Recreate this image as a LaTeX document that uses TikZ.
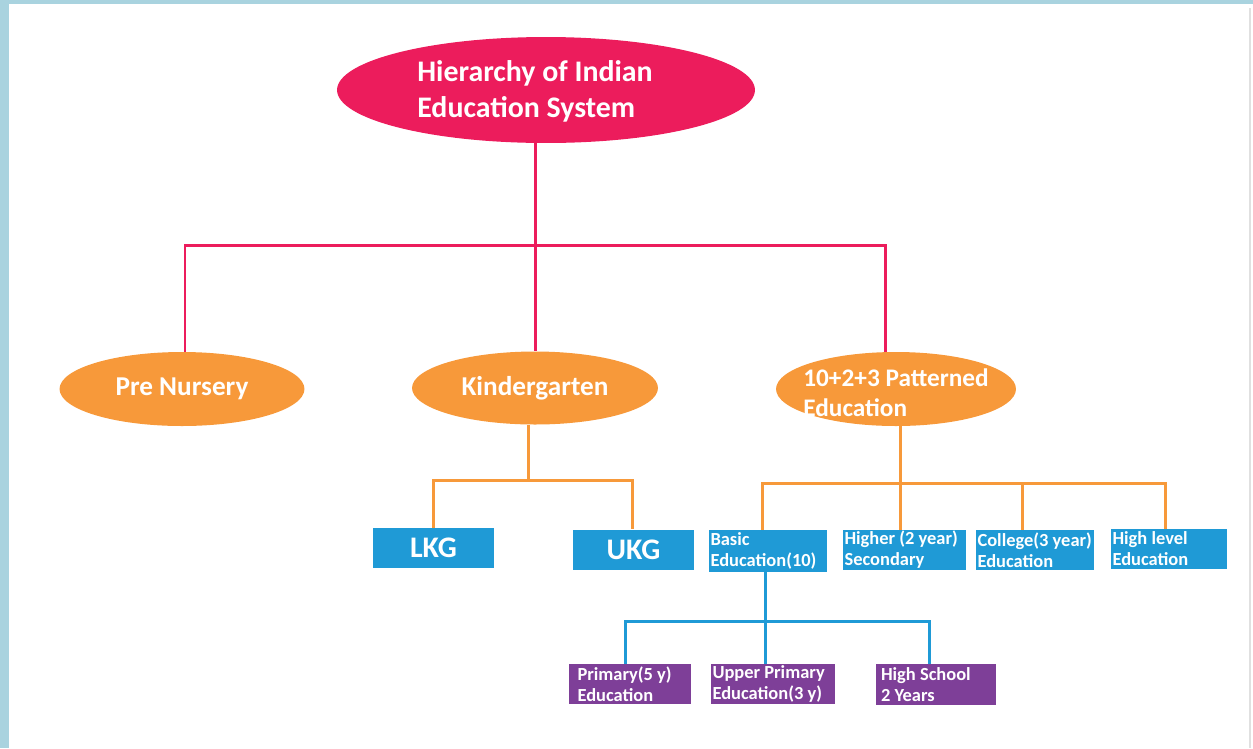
\documentclass[tikz,border=0pt]{standalone}
\usepackage{fontspec}
\setmainfont{Carlito}
\usetikzlibrary{shapes.geometric}
\definecolor{crimson}{HTML}{EC1C5C}
\definecolor{edorange}{HTML}{F7993A}
\definecolor{edblue}{HTML}{1F9AD6}
\definecolor{edpurple}{HTML}{7E3F98}
\definecolor{framebl}{HTML}{A9D3DF}
% text that does not size the ellipse round it
\newcommand{\flattext}[3][0pt]{\raisebox{-#2}[0pt][0pt]{\makebox[0pt]{\begin{tabular}{@{}l@{}}#3\end{tabular}\hspace*{#1}}}}
\begin{document}
\begin{tikzpicture}[
    x=0.02cm, y=-0.02cm,
    rootnode/.style={ellipse, fill=crimson, text=white, font=\bfseries\fontsize{17}{20}\selectfont,
        inner sep=0pt, minimum width=8.36cm, minimum height=2.12cm},
    levelnode/.style={ellipse, fill=edorange, text=white, font=\bfseries\fontsize{15.5}{17}\selectfont,
        inner sep=0pt, minimum width=4.9cm, minimum height=1.48cm},
    kbox/.style={rectangle, fill=edblue, text=white, font=\bfseries\fontsize{17}{20}\selectfont,
        inner sep=0pt, minimum width=2.42cm, minimum height=0.8cm},
    sbox/.style={rectangle, fill=edblue, text=white, font=\bfseries\fontsize{10.5}{12}\selectfont,
        align=flush left, inner xsep=1pt, inner ysep=0pt, text width=2.3cm, minimum height=0.8cm},
    pbox/.style={sbox, fill=edpurple},
    pinkline/.style={draw=crimson, line width=1.7pt},
    orangeline/.style={draw=edorange, line width=1.7pt},
    blueline/.style={draw=edblue, line width=1.7pt}
]
\useasboundingbox (0,0) rectangle (1253,748);

% frame
\fill[framebl] (0,0) rectangle (9,748);
\fill[framebl] (0,0) rectangle (1253,4);
\draw[black!12, line width=0.6pt] (1250,8) -- (1250,748);

% top level
\node[rootnode] (root) at (546,90)
    {\flattext[0.44cm]{0.21cm}{Hierarchy of Indian\\[0.5pt]Education System}};

% second level
\node[levelnode] (pre) at (182,389) {Pre Nursery};
\node[levelnode, minimum width=4.92cm, minimum height=1.46cm] (kinder) at (535,388) {Kindergarten};
\node[levelnode, minimum width=4.8cm, font=\bfseries\fontsize{14.4}{17}\selectfont] (pattern) at (896,389)
    {\flattext{0.26cm}{10+2+3 Patterned\\Education}};

% kindergarten branch
\node[kbox] (lkg) at (433.5,548) {LKG};
\node[kbox] (ukg) at (633.5,549.5) {UKG};

% 10+2+3 branch
\node[sbox, minimum height=0.84cm] (basic) at (768,551) {Basic\\Education(10)};
\node[sbox, text width=2.4cm] (higher) at (904.5,550) {Higher (2 year)\\Secondary};
\node[sbox] (college) at (1035,550) {\mbox{College(3 year)}\\Education};
\node[sbox, text width=2.26cm] (highlevel) at (1169,549) {High level\\Education};

% basic education branch
\node[pbox, text width=2.1cm, inner xsep=5pt] (primary) at (630,684) {Primary(5 y)\\Education};
\node[pbox, text width=2.42cm] (upper) at (773,684) {Upper Primary\\Education(3 y)};
\node[pbox, text width=2.2cm, inner xsep=3pt, minimum height=0.82cm] (highschool) at (936,684.5) {High School\\2 Years};

% junctions
\coordinate (j1) at (535,245);
\coordinate (j2) at (528,480);
\coordinate (j3) at (900,483);
\coordinate (j4) at (765,621);

% connectors
\draw[pinkline] (root.south -| j1) -- (j1);
\draw[pinkline] (j1) -| ([xshift=3*0.02cm]pre.north);
\draw[pinkline] (j1) -- (kinder.north -| j1);
\draw[pinkline] (j1) -| ([xshift=-11*0.02cm]pattern.north);

\draw[orangeline] (kinder.south -| j2) -- (j2);
\draw[orangeline] (j2) -| (lkg.north);
\draw[orangeline] (j2) -| ([xshift=-1*0.02cm]ukg.north);

\draw[orangeline] (pattern.south -| j3) -- (j3);
\draw[orangeline] (j3) -| ([xshift=-6*0.02cm]basic.north);
\draw[orangeline] (j3) -- (higher.north -| j3);
\draw[orangeline] (j3) -| ([xshift=-13*0.02cm]college.north);
\draw[orangeline] (j3) -| ([xshift=-4*0.02cm]highlevel.north);

\draw[blueline] (basic.south -| j4) -- (j4);
\draw[blueline] (j4) -| ([xshift=-5*0.02cm]primary.north);
\draw[blueline] (j4) -- (upper.north -| j4);
\draw[blueline] (j4) -| ([xshift=-7*0.02cm]highschool.north);

\end{tikzpicture}
\end{document}
